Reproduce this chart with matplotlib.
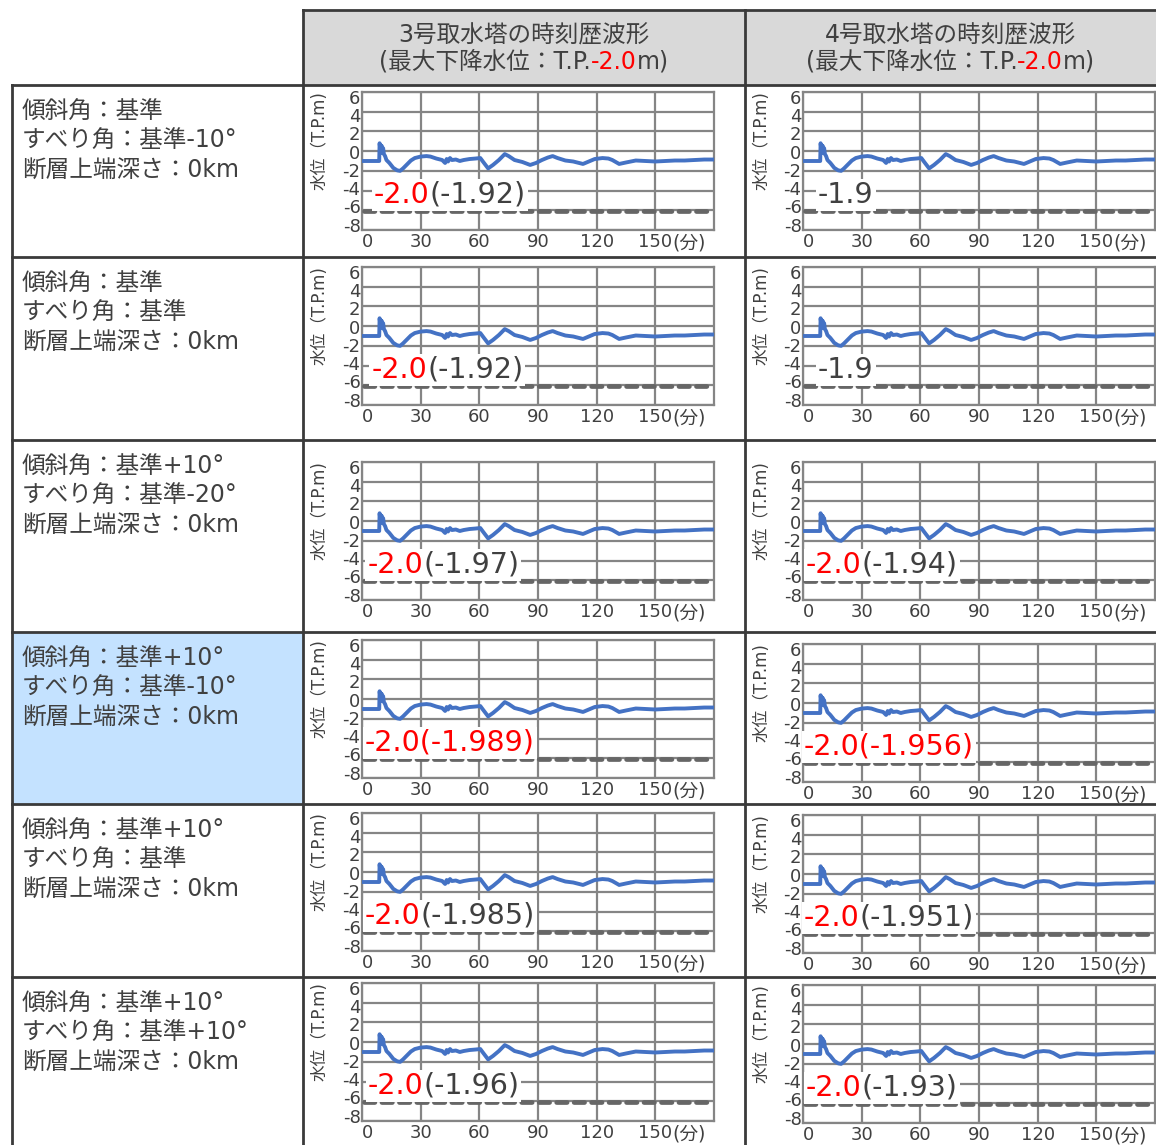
import matplotlib
matplotlib.use('Agg')
import matplotlib.pyplot as plt

plt.rcParams['font.family'] = ['DejaVu Sans', 'Noto Sans CJK JP']

# ---- data ----
col_titles = ['3号取水塔の時刻歴波形', '4号取水塔の時刻歴波形']
max_drop = '-2.0'
row_labels = [
    ['傾斜角：基準', 'すべり角：基準-10°', '断層上端深さ：0km'],
    ['傾斜角：基準', 'すべり角：基準', '断層上端深さ：0km'],
    ['傾斜角：基準+10°', 'すべり角：基準-20°', '断層上端深さ：0km'],
    ['傾斜角：基準+10°', 'すべり角：基準-10°', '断層上端深さ：0km'],
    ['傾斜角：基準+10°', 'すべり角：基準', '断層上端深さ：0km'],
    ['傾斜角：基準+10°', 'すべり角：基準+10°', '断層上端深さ：0km'],
]
highlight_row = 3

# (red part, gray part) of the label in each panel
labels_3 = [('-2.0', '(-1.92)'), ('-2.0', '(-1.92)'), ('-2.0', '(-1.97)'),
            ('-2.0(-1.989)', ''), ('-2.0', '(-1.985)'), ('-2.0', '(-1.96)')]
labels_4 = [('', '-1.9'), ('', '-1.9'), ('-2.0', '(-1.94)'),
            ('-2.0(-1.956)', ''), ('-2.0', '(-1.951)'), ('-2.0', '(-1.93)')]

# water level time history (min, T.P.m)
t_wave = [0, 8.8, 9.0, 9.3, 9.6, 9.9, 10.2, 10.5, 10.8, 11.2, 11.8, 12.5, 14, 16, 18,
          19.5, 21, 23, 25, 27, 30, 33, 35, 38, 41, 42.5, 43.3, 44, 45, 46, 48, 50,
          52, 55, 58, 60.5, 62, 64.5, 67, 70, 73, 75, 78, 82, 86, 89, 92, 95, 97.5,
          100, 104, 108, 113, 116, 119, 123, 126, 128, 131.5, 135, 140, 145, 150,
          155, 160, 165, 170, 175, 180]
h_wave = [-1.0, -1.0, 0.8, 0.3, 0.6, 0.0, 0.5, -0.2, 0.3, -0.3, -0.5, -0.9, -1.2, -1.7,
          -1.95, -2.0, -1.75, -1.35, -0.95, -0.7, -0.55, -0.5, -0.55, -0.75, -0.9, -1.2,
          -0.8, -1.05, -0.7, -0.9, -0.85, -1.0, -0.9, -0.8, -0.75, -0.7, -1.1, -1.75,
          -1.4, -0.9, -0.3, -0.5, -0.9, -1.1, -1.4, -1.2, -0.9, -0.65, -0.5, -0.7,
          -0.95, -1.05, -1.3, -1.05, -0.8, -0.7, -0.75, -0.9, -1.3, -1.15, -0.95,
          -1.0, -1.05, -1.0, -0.95, -0.95, -0.9, -0.85, -0.85]
limit_level = -6.1
limit_t = [1, 177]

x_ticks = [0, 30, 60, 90, 120, 150]
y_ticks = [-8, -6, -4, -2, 0, 2, 4, 6]

# ---- layout (pixels) ----
W, H = 1156, 1145
row_tops = [85, 257, 440, 632, 804, 977]
col_x = [12, 303, 745]
ax_left = [362, 803]
ax_w = 352
ax_h = 138
ax_tops = [[92, 267, 462, 640, 813, 983], [92, 267, 462, 644, 815, 985]]
ann_x = [[6, 4.8, 2.7, 1.4, 1.5, 2.9], [7.7, 7.7, 1.5, 0.5, 0.3, 1.5]]

txt = '#404040'
red = '#ff0000'
gridc = '#858585'
border = '#3a3a3a'

fig = plt.figure(figsize=(W / 100, H / 100), dpi=100)
bg = fig.add_axes([0, 0, 1, 1])
bg.set_xlim(0, W)
bg.set_ylim(H, 0)
bg.axis('off')


def chain(ax, x, y, parts, size, center=False, box=False, **kw):
    parts = [p for p in parts if p[0]]
    bb = dict(facecolor='white', edgecolor='none', pad=1.5) if box else None
    first = ax.text(x, y, parts[0][0], color=parts[0][1], fontsize=size,
                    ha='left', va='center', bbox=bb, **kw)
    items = [first]
    prev = first
    for s, c in parts[1:]:
        prev = ax.annotate(s, xy=(1, 0), xycoords=prev, va='bottom', ha='left',
                           color=c, fontsize=size, bbox=bb, **kw)
        items.append(prev)
    if center:
        r = fig.canvas.get_renderer()
        total = sum(t.get_window_extent(r).width for t in items)
        first.set_x(x - total / 2)
    return items


# header
bg.add_patch(plt.Rectangle((col_x[1], 10), W - col_x[1], 75, facecolor='#d9d9d9',
                           edgecolor='none'))
bg.add_patch(plt.Rectangle((col_x[0], row_tops[highlight_row]), col_x[1] - col_x[0],
                           row_tops[highlight_row + 1] - row_tops[highlight_row],
                           facecolor='#c4e2ff', edgecolor='none'))
centers = [(col_x[1] + col_x[2]) / 2, (col_x[2] + W) / 2]
for cx, title in zip(centers, col_titles):
    bg.text(cx, 35, title, ha='center', va='center', fontsize=17, color=txt)
    chain(bg, cx, 62, [('(最大下降水位：T.P.', txt), (max_drop, red), ('m)', txt)],
          17, center=True)

# borders
lw = 2.0
bg.plot([col_x[1], W], [10, 10], color=border, lw=lw)
for y in row_tops:
    bg.plot([col_x[0], W], [y, y], color=border, lw=lw)
bg.plot([col_x[0], col_x[0]], [85, H], color=border, lw=lw)
for x in col_x[1:]:
    bg.plot([x, x], [10, H], color=border, lw=lw)

# row labels
for top, lines in zip(row_tops, row_labels):
    for k, s in enumerate(lines):
        bg.text(22, top + 27 + k * 28.7, s, ha='left', va='center', fontsize=17,
                color=txt)

# panels
for c, labels in enumerate([labels_3, labels_4]):
    for r in range(6):
        top = ax_tops[c][r]
        ax = fig.add_axes([ax_left[c] / W, 1 - (top + ax_h) / H, ax_w / W, ax_h / H])
        ax.plot(t_wave, h_wave, color='#4472c4', lw=2.8, zorder=3)
        ax.plot(limit_t, [limit_level, limit_level], color='#666666', lw=3.4,
                ls=(0, (2.2, 1.5)), dash_capstyle='round', zorder=3)
        ax.set_xlim(0, 180)
        ax.set_ylim(-8, 6)
        ax.set_xticks(x_ticks)
        ax.set_yticks(y_ticks)
        ax.set_xticklabels([str(v) for v in x_ticks], fontsize=13, color=txt)
        ax.get_xticklabels()[0].set_horizontalalignment('left')
        ax.set_yticklabels([])
        ax.tick_params(length=0, pad=2.5)
        ax.grid(True, color=gridc, lw=1.6)
        ax.set_axisbelow(True)
        for sp in ax.spines.values():
            sp.set_color(gridc)
            sp.set_linewidth(1.6)
        # y labels spread slightly like the original
        for v in y_ticks:
            ax.text(-0.004, v - 0.68 + (6 - v) * 0.073, str(v),
                    transform=ax.get_yaxis_transform(), ha='right', va='center',
                    fontsize=13, color=txt)
        ax.annotate('(分)', xy=(150, 0), xycoords=('data', 'axes fraction'),
                    xytext=(12.6, -2.5), textcoords='offset points', va='top',
                    ha='left', fontsize=13.5, color=txt, annotation_clip=False)
        red_part, gray_part = labels[r]
        chain(ax, ann_x[c][r], -4.4, [(red_part, red), (gray_part, txt)], 20.5,
              box=True, zorder=5)
        bg.text(col_x[c + 1] + 17, top + 49, '水位（T.P.m)', rotation=90,
                ha='center', va='center', fontsize=12, color=txt)

fig.savefig('out.png', dpi=100)
